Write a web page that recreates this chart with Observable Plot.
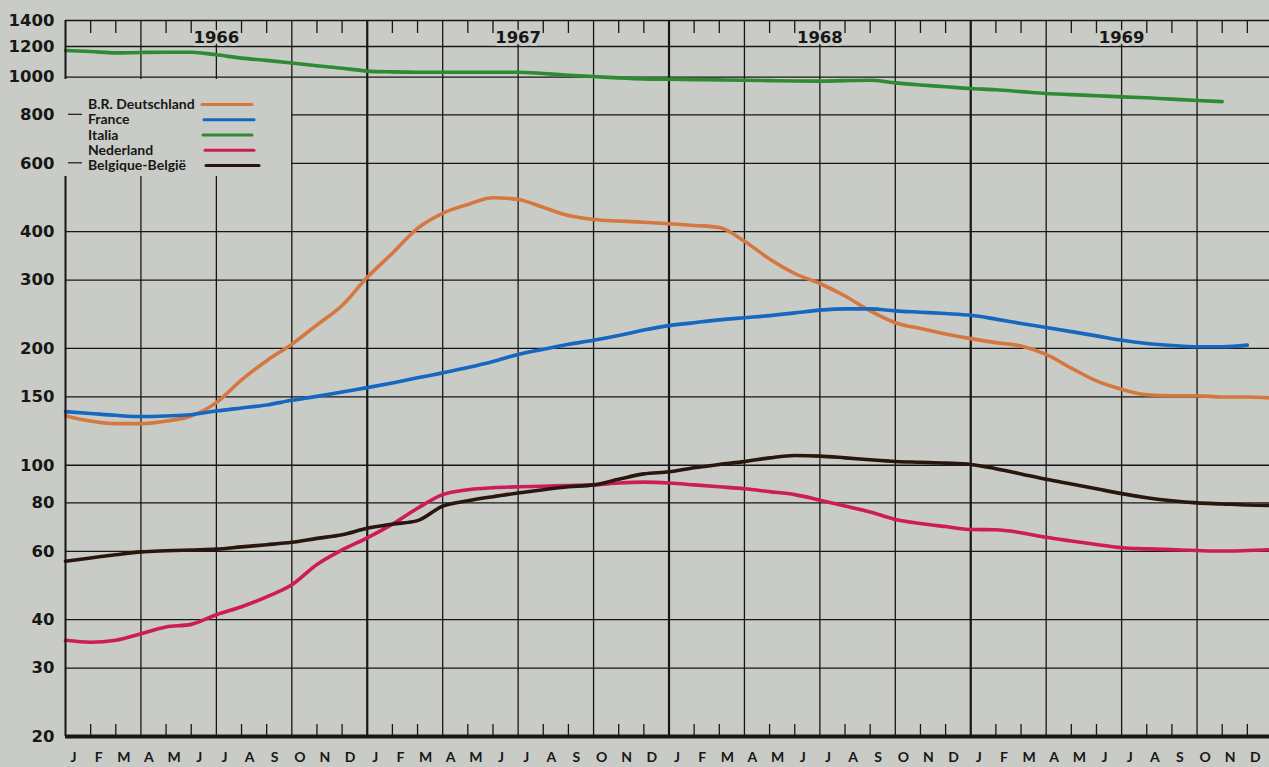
<!DOCTYPE html>
<html>
<head>
<meta charset="utf-8">
<script src="https://cdn.jsdelivr.net/npm/d3@7"></script>
<script src="https://cdn.jsdelivr.net/npm/@observablehq/plot@0.6"></script>
<style>
  html, body { margin: 0; padding: 0; overflow: hidden; background: #c9cbc6; }
  #wrap { position: relative; width: 1269px; height: 767px; overflow: hidden; }
  #legend { position: absolute; }
</style>
</head>
<body>
<div id="wrap"></div>
<script>
// ---- data (monthly, index 0 = January 1966) ----
const monthInitials = ["J","F","M","A","M","J","J","A","S","O","N","D"];
const years = [1966, 1967, 1968, 1969];
const yTicks = [20, 30, 40, 60, 80, 100, 150, 200, 300, 400, 600, 800, 1000, 1200, 1400];
const gridValues = [30, 40, 60, 80, 100, 150, 200, 300, 400, 600, 800, 1000, 1200];
const countries = ["B.R. Deutschland", "France", "Italia", "Nederland", "Belgique-België"];
const colors = ["#d5773f", "#1667bf", "#2e8a33", "#cd1c58", "#29170f"];

const deutschland = [134, 130, 128, 128, 130, 134, 145, 166, 186, 205, 230, 258,
  305, 352, 408, 446, 470, 489, 484, 462, 440, 430, 426, 423,
  419, 415, 410, 378, 340, 312, 294, 273, 250, 233, 225, 218,
  212, 207, 203, 193, 178, 165, 157, 152, 151, 151, 150, 150, 149];
const france = [137.5, 136, 134.5, 133.5, 134, 135, 138, 140.5, 143, 147, 150.5, 154.5,
  158.5, 163, 168, 173, 178.5, 185, 193, 199, 205, 210, 216, 223,
  229, 233, 237, 240, 243, 247, 251, 253, 253, 250, 248, 246,
  243.5, 238, 232, 226.5, 221, 215.5, 210, 206, 203.5, 202, 202, 204];
const italia = [1172, 1165, 1155, 1158, 1160, 1160, 1142, 1120, 1105, 1088, 1070, 1055,
  1037, 1032, 1030, 1030, 1030, 1030, 1030, 1022, 1012, 1004, 996, 990,
  988, 986, 984, 982, 980, 978, 977, 980, 982, 967, 955, 945,
  935, 928, 918, 908, 902, 896, 890, 885, 878, 871, 865];
const nederland = [35.4, 35, 35.4, 36.8, 38.3, 38.9, 41.2, 43.2, 45.8, 49.2, 55.5, 60.5,
  65, 70.5, 77.5, 84, 86.5, 87.5, 88, 88.3, 88.7, 89, 90, 90.5,
  90, 89, 88, 87, 85.5, 84, 81.3, 78.5, 75.8, 72.5, 70.8, 69.5,
  68.3, 68.2, 67, 65.2, 63.8, 62.5, 61.3, 60.9, 60.6, 60.3, 60.1, 60.3, 60.6];
const belgique = [56.6, 57.7, 58.8, 59.8, 60.2, 60.5, 60.8, 61.6, 62.4, 63.3, 64.8, 66.2,
  68.8, 70.5, 72, 78.5, 81, 83, 84.8, 86.5, 88, 89, 92, 95,
  96.2, 98.5, 100.5, 102.2, 104.5, 106, 105.6, 104.5, 103.3, 102.3, 101.8, 101.3,
  100.5, 98, 95, 92, 89.5, 87, 84.5, 82.5, 81, 80, 79.5, 79, 78.8];

const series = [deutschland, france, italia, nederland, belgique];

// ---- tables built from the arrays ----
const rows = series.flatMap((vals, k) => vals.map((v, i) => ({country: countries[k], month: i, value: v})));
const nMonths = years.length * 12;
const monthLabels = d3.range(nMonths).map(i => ({i, label: monthInitials[i % 12]}));
const quarterLines = d3.range(3, nMonths, 3).filter(i => i % 12 !== 0);
const yearLines = d3.range(12, nMonths, 12);
const monthTicks = d3.range(1, nMonths).filter(i => i % 3 !== 0);
const yearLabels = years.map((y, k) => ({x: k * 12 + 6, text: String(y)}));

const bg = "#c9cbc6";
const ink = "#171717";
const numFont = "DejaVu Sans";
const textFont = "Lato";

const chart = Plot.plot({
  width: 1269,
  height: 767,
  marginLeft: 65,
  marginRight: -3,
  marginTop: 20,
  marginBottom: 31,
  style: {background: bg, color: ink, overflow: "hidden"},
  x: {domain: [0, nMonths], axis: null},
  y: {type: "log", domain: [20, 1400], axis: null},
  color: {domain: countries, range: colors},
  marks: [
    Plot.ruleY(gridValues, {y: d => d, stroke: ink, strokeWidth: 1.3}),
    Plot.ruleX(quarterLines, {x: d => d, stroke: ink, strokeWidth: 1.3}),
    Plot.ruleX(yearLines, {x: d => d, stroke: ink, strokeWidth: 2.2}),
    Plot.line(rows, {x: "month", y: "value", z: "country", stroke: "country",
      strokeWidth: 3.6, curve: "monotone-x", strokeLinecap: "round", strokeLinejoin: "round"}),
    Plot.text(yearLabels, {x: "x", text: "text", frameAnchor: "top", dy: 11,
      fontSize: 16.5, fontWeight: "bold", fontFamily: numFont, fill: ink,
      stroke: bg, strokeWidth: 6, paintOrder: "stroke", strokeLinejoin: "round"}),
    Plot.tickX(monthTicks, {x: d => d, insetBottom: 703, stroke: ink, strokeWidth: 1.3}),
    Plot.tickX(monthTicks, {x: d => d, insetTop: 704, stroke: ink, strokeWidth: 1.3}),
    Plot.ruleY([1400], {y: d => d, stroke: ink, strokeWidth: 1.6}),
    Plot.ruleX([0], {x: d => d, stroke: ink, strokeWidth: 2}),
    Plot.ruleY([20], {y: d => d, stroke: ink, strokeWidth: 4}),
    Plot.text(yTicks, {y: d => d, text: d => String(d), frameAnchor: "left", dx: -11,
      textAnchor: "end", fontSize: 16.5, fontWeight: "bold", fontFamily: numFont, fill: ink}),
    Plot.text(monthLabels, {x: "i", text: "label", frameAnchor: "bottom", dy: 25, dx: 8,
      fontSize: 14, fontWeight: "bold", fontFamily: textFont, fill: ink})
  ]
});

const wrap = document.getElementById("wrap");
wrap.appendChild(chart);

// ---- legend box (covers the grid behind it, as in the original) ----
const ys = chart.scale("y");
const L = {left: 63, top: 79, width: 228, height: 97};
const leg = d3.select(wrap).append("svg")
  .attr("id", "legend")
  .attr("width", L.width).attr("height", L.height)
  .style("left", L.left + "px").style("top", L.top + "px");
leg.append("rect").attr("width", L.width).attr("height", L.height).attr("fill", bg);
// small y ticks that remain visible inside the legend area
[800, 600].forEach(v => {
  const yy = ys.apply(v) - L.top;
  leg.append("line").attr("x1", 5).attr("x2", 19).attr("y1", yy).attr("y2", yy)
    .attr("stroke", ink).attr("stroke-width", 1.2);
});
const swatchEnds = [[139, 189], [141, 191], [140, 189], [142, 191], [143, 196]];
countries.forEach((name, k) => {
  const cy = 104 + k * 15.25 - L.top;
  leg.append("text").attr("x", 25).attr("y", cy).attr("dy", "0.36em")
    .attr("font-family", textFont).attr("font-weight", "bold").attr("font-size", 14)
    .attr("fill", ink).text(name);
  leg.append("line").attr("x1", swatchEnds[k][0]).attr("x2", swatchEnds[k][1])
    .attr("y1", cy + 0.5).attr("y2", cy + 0.5)
    .attr("stroke", colors[k]).attr("stroke-width", 3).attr("stroke-linecap", "round");
});
</script>
</body>
</html>
